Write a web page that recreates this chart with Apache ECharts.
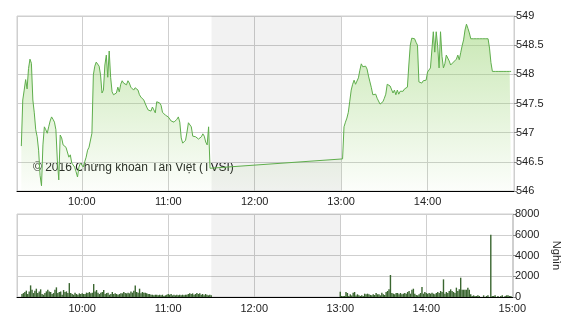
<!DOCTYPE html>
<html><head><meta charset="utf-8">
<script src="https://cdn.jsdelivr.net/npm/echarts@6/dist/echarts.min.js"></script>
<style>html,body{margin:0;padding:0;background:#fff}#c{width:570px;height:320px}</style>
</head><body><div id="c"></div>
<script>
// ---- data ----
const priceMorningStart = "09:18";
const priceMorning = [546.77,547.56,547.73,547.91,547.75,548.10,548.26,548.19,547.56,547.34,
547.05,546.93,546.70,546.27,546.09,546.79,547.10,547.05,546.99,547.10,
547.20,547.27,547.23,547.18,547.05,546.53,546.19,546.96,546.91,546.79,
546.77,546.75,546.72,546.58,546.62,546.48,546.50,546.41,546.33,546.24,
546.41,546.48,546.46,546.41,546.50,546.58,546.70,546.75,546.74,546.99,
547.99,548.14,548.21,548.21,548.14,547.99,547.68,547.73,548.16,548.33,
547.95,548.40,547.95,547.70,547.65,547.63,547.68,547.78,547.70,547.83,
547.89,547.85,547.87,547.82,547.89,547.85,547.78,547.75,547.73,547.77,
547.78,547.73,547.65,547.61,547.58,547.56,547.54,547.44,547.39,547.39,
547.37,547.44,547.39,547.34,547.53,547.54,547.51,547.47,547.35,547.32,
547.30,547.30,547.27,547.25,547.20,547.18,547.18,547.20,547.23,547.27,
547.18,546.91,546.82,546.82,546.87,547.01,547.17,547.17,547.10,546.94,
546.91,546.93,546.93,546.89,546.89,546.93,546.98,546.94,546.84,546.79,
547.10,546.39,546.36];
const priceAfternoonStart = "13:01";
const priceAfternoon = [546.55,547.10,547.18,547.25,547.35,547.54,547.73,547.83,547.90,547.83,
547.85,547.94,548.07,548.18,548.13,548.14,548.14,548.09,547.97,547.87,
547.77,547.65,547.62,547.66,547.59,547.56,547.49,547.46,547.53,547.59,
547.66,547.83,547.80,547.80,547.77,547.68,547.73,547.65,547.73,547.66,
547.71,547.73,547.71,547.75,547.77,547.78,548.16,548.50,548.62,548.59,
548.61,548.55,548.50,547.87,547.90,547.85,547.89,547.87,547.90,
548.04,548.07,548.11,548.11,548.73,548.38,548.73,548.49,548.11,548.73,
548.31,548.11,548.18,548.33,548.30,548.23,548.16,548.19,548.21,548.23,
548.26,548.33,548.25,548.37,548.49,548.59,548.76,548.86,548.79,548.71,
548.61,548.61,548.61,548.61,548.61,548.61,548.61,548.61,548.61,548.61,
548.61,548.61,548.61,548.45,548.20,548.05,548.05,548.05,548.05,548.05,
548.05,548.05,548.05,548.05,548.05,548.05,548.05,548.05,548.05];
const volMorningStart = "09:18";
const volMorning = [290,380,480,610,290,540,1120,700,380,610,
800,380,540,740,290,220,380,540,700,540,
480,290,380,700,930,380,480,540,220,670,
480,540,380,1340,380,290,220,420,290,220,
350,290,350,290,290,420,380,480,350,420,
1250,540,670,420,290,420,480,670,290,380,
420,220,290,480,290,350,290,220,290,350,
350,480,380,350,420,350,540,420,610,1120,
480,420,800,350,480,420,420,350,290,290,
220,220,160,220,220,160,220,160,220,100,
160,220,290,220,290,160,220,160,220,160,
220,160,220,160,220,220,290,350,290,350,
220,290,380,290,350,220,290,160,290,220,
160,220,160];
const volAfternoonStart = "13:00";
const volAfternoon = [510,100,100,100,480,385,100,260,150,420,
480,150,260,160,100,160,100,320,260,320,
260,200,160,260,190,385,260,260,160,420,
260,200,480,580,740,2120,385,320,260,385,
385,260,385,260,320,385,320,480,580,320,
700,800,320,200,160,260,385,960,320,480,
385,320,385,320,420,320,260,385,480,385,
580,480,1700,320,480,385,580,740,580,480,
385,900,580,740,1860,700,700,700,700,900,
700,260,100,160,100,100,160,100,0,0,
160,0,100,160,0,6000,100,100,160,0,
100,0,100,160,0,100,160,160,100,100,0];
const priceTicks = [546,546.5,547,547.5,548,548.5,549];
const volTicks = [0,2000,4000,6000,8000];
const xRange = ["09:15","15:00"];
const lunch = ["11:30","13:00"];
const copyright = "© 2016 Chứng khoán Tân Việt (TVSI)";
const volUnit = "Nghìn";

// ---- helpers ----
function T(s){const [h,m]=s.split(":").map(Number);return Date.UTC(2016,0,4,h,m);}
function series(start, vals){const t0=T(start);return vals.map((v,i)=>[t0+i*60000,v]);}
function pad(n){return (n<10?"0":"")+n;}
const priceData = series(priceMorningStart, priceMorning).concat(series(priceAfternoonStart, priceAfternoon));
const volData = series(volMorningStart, volMorning).concat(series(volAfternoonStart, volAfternoon)).filter(d=>d[1]>0);

const font = "Liberation Sans, Arial, sans-serif";
function xAxisCfg(gi){
  return {type:"time", gridIndex:gi, min:T(xRange[0]), max:T(xRange[1]),
    minInterval:3600000, maxInterval:3600000,
    axisLine:{show:true, onZero:false, lineStyle:{color:"#000", width:1}},
    axisTick:{show:false},
    splitLine:{show:true, lineStyle:{color:"#cfcfcf", width:1}},
    axisLabel:{showMinLabel:false, color:"#222", fontSize:11, fontFamily:font, margin:gi===0?5:6,
      formatter:v=>{const d=new Date(v);return pad(d.getUTCHours())+":"+pad(d.getUTCMinutes());}}
  };
}
const lunchArea = {silent:true, itemStyle:{color:"rgba(0,0,0,0.05)"}, data:[[{xAxis:T(lunch[0])},{xAxis:T(lunch[1])}]]};

const chart = echarts.init(document.getElementById("c"), null, {renderer:"canvas"});
chart.setOption({
  animation:false,
  useUTC:true,
  backgroundColor:"#fff",
  grid:[
    {left:17, top:16, width:497, height:175, show:true, borderColor:"#cfcfcf", borderWidth:1},
    {left:17, top:214, width:497, height:83, show:true, borderColor:"#cfcfcf", borderWidth:1}
  ],
  xAxis:[xAxisCfg(0), xAxisCfg(1)],
  yAxis:[
    {type:"value", gridIndex:0, position:"right", min:priceTicks[0], max:priceTicks[priceTicks.length-1], interval:0.5,
     axisLine:{show:true, lineStyle:{color:"#cfcfcf"}}, axisTick:{show:true, length:3, lineStyle:{color:"#888"}},
     splitLine:{lineStyle:{color:"#cfcfcf"}},
     axisLabel:{color:"#222", fontSize:11, fontFamily:font, margin:2, formatter:v=>String(v)}},
    {type:"value", gridIndex:1, position:"right", min:volTicks[0], max:volTicks[volTicks.length-1], interval:2000,
     name:volUnit, nameLocation:"middle", nameRotate:-90, nameGap:38,
     nameTextStyle:{color:"#222", fontSize:11, fontFamily:font},
     axisLine:{show:true, lineStyle:{color:"#cfcfcf"}}, axisTick:{show:true, length:3, lineStyle:{color:"#888"}},
     splitLine:{lineStyle:{color:"#cfcfcf"}},
     axisLabel:{color:"#222", fontSize:11, fontFamily:font, margin:2, formatter:v=>String(v)}}
  ],
  series:[
    {type:"line", xAxisIndex:0, yAxisIndex:0, data:priceData, symbol:"none", showSymbol:false,
     lineStyle:{color:"#5fae4c", width:1},
     areaStyle:{color:new echarts.graphic.LinearGradient(0,0,0,1,[
        {offset:0, color:"rgba(150,210,110,0.75)"},{offset:1, color:"rgba(150,210,110,0.04)"}])},
     markArea:lunchArea},
    {type:"bar", xAxisIndex:1, yAxisIndex:1, data:volData, barWidth:1.4, barGap:"0%",
     itemStyle:{color:"#3a6630"}, markArea:lunchArea}
  ],
  graphic:[{type:"text", left:33, top:162, style:{text:copyright, fill:"#222", font:"12px "+font}}]
});
</script></body></html>
